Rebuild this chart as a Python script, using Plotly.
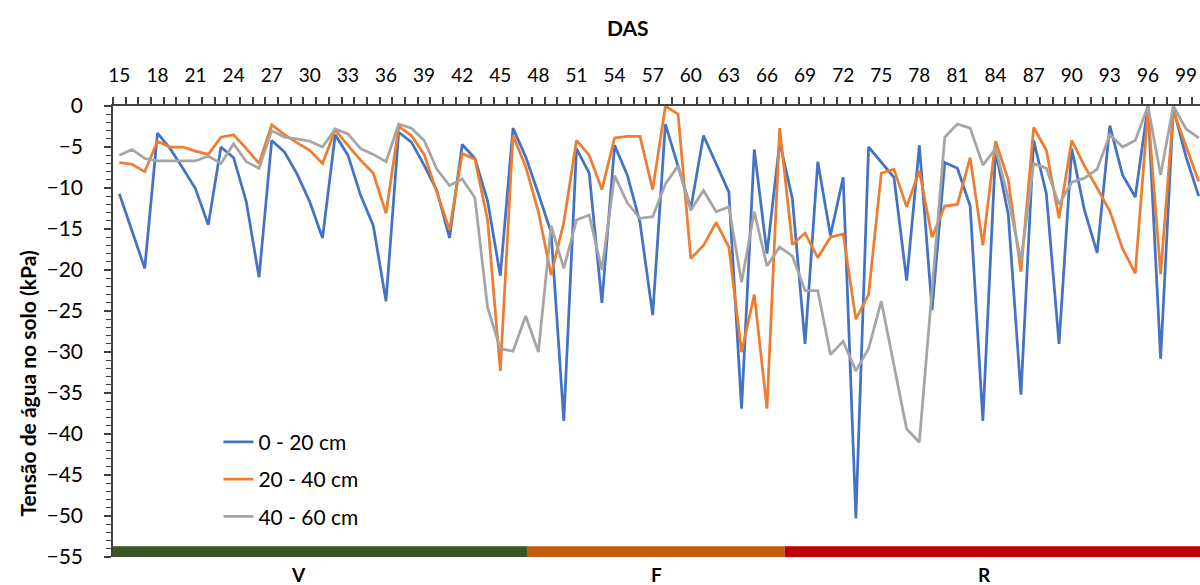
import plotly.graph_objects as go

days = list(range(15, 101))

depth_0_20 = [-10.7, -15.3, -19.8, -3.3, -5.2, -7.6, -10.1, -14.5, -5.0, -6.3,
              -11.7, -20.9, -4.2, -5.6, -8.3, -11.7, -16.1, -3.5, -6.0, -10.9,
              -14.6, -23.8, -3.2, -4.4, -7.2, -10.3, -16.1, -4.7, -6.4, -11.6,
              -20.7, -2.7, -6.2, -10.7, -15.4, -38.4, -5.2, -8.2, -24.0, -4.8,
              -8.4, -14.2, -25.5, -2.2, -7.2, -12.5, -3.6, -7.0, -10.5, -36.9,
              -5.3, -18.0, -4.4, -11.3, -29.0, -6.8, -15.8, -8.7, -50.3, -5.0,
              -6.8, -8.7, -21.3, -4.8, -24.9, -6.9, -7.6, -12.2, -38.4, -5.5,
              -13.2, -35.2, -4.2, -10.7, -29.0, -5.2, -12.7, -17.9, -2.4, -8.4,
              -11.1, 0.0, -30.8, -0.3, -6.2, -11.0]

depth_20_40 = [-6.9, -7.1, -8.0, -4.3, -5.0, -5.0, -5.5, -5.9, -3.8, -3.5,
               -5.2, -7.0, -2.3, -3.5, -4.5, -5.4, -7.0, -2.9, -4.8, -6.6,
               -8.2, -13.1, -2.5, -3.6, -5.9, -10.5, -15.1, -5.8, -6.5, -13.9,
               -32.3, -3.6, -7.4, -12.9, -20.6, -14.2, -4.2, -6.0, -10.2, -3.9,
               -3.7, -3.7, -10.2, 0.0, -1.0, -18.6, -17.0, -14.2, -17.2, -30.0,
               -23.0, -36.9, -2.7, -16.9, -15.5, -18.5, -16.0, -15.6, -26.0, -23.0,
               -8.2, -7.7, -12.3, -7.9, -16.0, -12.2, -12.0, -6.3, -17.0, -4.3,
               -9.0, -20.2, -2.6, -5.4, -13.7, -4.2, -7.3, -10.0, -12.8, -17.4,
               -20.4, -0.6, -20.5, -0.6, -4.8, -9.2]

depth_40_60 = [-6.0, -5.3, -6.4, -6.7, -6.7, -6.7, -6.7, -6.1, -7.0, -4.6,
               -6.8, -7.6, -3.0, -3.8, -4.0, -4.3, -5.0, -2.8, -3.4, -5.2,
               -5.9, -6.8, -2.2, -2.7, -4.2, -7.7, -9.7, -8.9, -11.2, -24.6,
               -29.6, -29.9, -25.6, -30.0, -14.6, -19.8, -13.9, -13.3, -20.0, -8.5,
               -11.8, -13.7, -13.5, -9.5, -7.3, -12.7, -10.3, -12.9, -12.3, -21.5,
               -12.9, -19.5, -17.2, -18.3, -22.5, -22.5, -30.3, -28.7, -32.3, -29.6,
               -23.8, -31.6, -39.4, -41.0, -22.4, -3.8, -2.2, -2.7, -7.2, -5.2,
               -11.2, -18.9, -7.0, -7.6, -12.0, -9.3, -8.8, -7.7, -3.5, -5.0,
               -4.2, 0.0, -8.4, 0.0, -2.8, -3.9]

series_names = ["0 - 20 cm", "20 - 40 cm", "40 - 60 cm"]
series_colors = ["#4472C4", "#ED7D31", "#A5A5A5"]

x_tick_vals = list(range(15, 100, 3))
y_tick_vals = list(range(-55, 1, 5))

stage_labels = ["V", "F", "R"]
stage_bounds = [14.5, 47.1, 67.4, 100.2]
stage_colors = ["#375623", "#C55A11", "#C00000"]
stage_label_pos = [29.1, 57.3, 83.1]

FONT = "Lato"

fig = go.Figure()
for i, (name, vals, col) in enumerate(zip(series_names,
                                          [depth_0_20, depth_20_40, depth_40_60],
                                          series_colors)):
    fig.add_trace(go.Scatter(x=days, y=vals, mode="lines", name=name,
                             legendgroup=str(i),
                             line=dict(color=col, width=2.75)))

for j in range(3):
    fig.add_shape(type="rect", xref="x", yref="y",
                  x0=stage_bounds[j], x1=stage_bounds[j + 1],
                  y0=-55, y1=-53.7, fillcolor=stage_colors[j],
                  line=dict(width=0), layer="above")
    fig.add_annotation(x=stage_label_pos[j], y=-0.039, xref="x", yref="paper",
                       text="<b>" + stage_labels[j] + "</b>", showarrow=False,
                       font=dict(family=FONT, size=19, color="black"),
                       xanchor="center", yanchor="middle")

fig.add_annotation(x=0.474, y=1.175, xref="paper", yref="paper",
                   text="<b>DAS</b>", showarrow=False,
                   font=dict(family=FONT, size=21, color="black"),
                   xanchor="center", yanchor="middle")
fig.add_annotation(x=-0.079, y=0.385, xref="paper", yref="paper",
                   text="<b>Tensão de água no solo (kPa)</b>", showarrow=False,
                   textangle=-90,
                   font=dict(family=FONT, size=21, color="black"),
                   xanchor="center", yanchor="middle")

fig.update_layout(
    width=1200, height=585,
    margin=dict(l=113, r=0, t=106, b=28),
    plot_bgcolor="white", paper_bgcolor="white",
    font=dict(family=FONT, size=19, color="black"),
    legend=dict(x=0.097, y=0.30, xanchor="left", yanchor="top",
                bgcolor="rgba(0,0,0,0)", tracegroupgap=7,
                font=dict(family=FONT, size=21, color="black")),
    xaxis=dict(side="top", range=[14.5, 100.1], showgrid=False,
               zeroline=False, showline=True, linecolor="#404040", linewidth=2,
               tickmode="array", tickvals=x_tick_vals,
               ticks="", ticklabelstandoff=14,
               minor=dict(tick0=14.5, dtick=1, ticks="outside", ticklen=7,
                          tickcolor="#404040", tickwidth=1.5, showgrid=False),
               tickfont=dict(family=FONT, size=19, color="black")),
    yaxis=dict(range=[-55, 0], showgrid=False, zeroline=False,
               showline=True, linecolor="#404040", linewidth=1.5,
               tickmode="array", tickvals=y_tick_vals,
               ticks="outside", ticklen=7, tickcolor="#404040", tickwidth=1.5,
               ticklabelstandoff=17,
               minor=dict(dtick=1, ticks="outside", ticklen=5,
                          tickcolor="#404040", tickwidth=1, showgrid=False),
               tickfont=dict(family=FONT, size=21, color="black")),
)

fig.write_html("out.html")
